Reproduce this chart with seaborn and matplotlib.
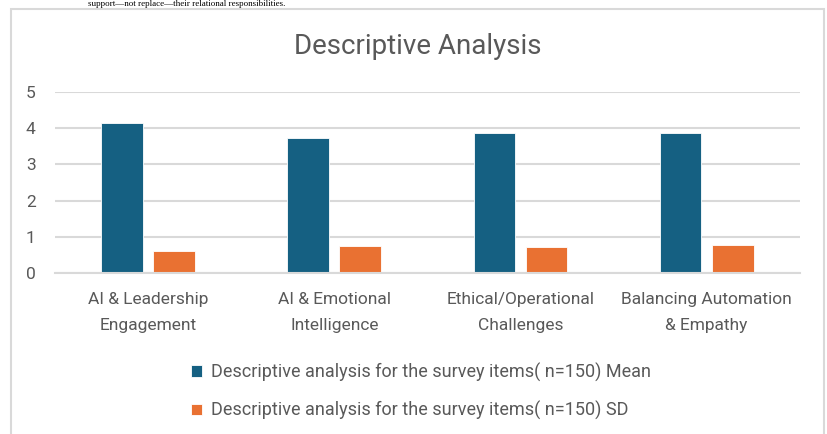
import pandas as pd
import matplotlib.pyplot as plt
import matplotlib.patches as mpatches
import seaborn as sns

# data
categories = ['AI & Leadership\nEngagement', 'AI & Emotional\nIntelligence',
              'Ethical/Operational\nChallenges', 'Balancing Automation\n& Empathy']
mean_vals = [4.15, 3.72, 3.87, 3.88]
sd_vals = [0.62, 0.74, 0.71, 0.77]
series = ['Descriptive analysis for the survey items( n=150) Mean',
          'Descriptive analysis for the survey items( n=150) SD']
y_ticks = [0, 1, 2, 3, 4, 5]

COLORS = {series[0]: '#156082', series[1]: '#E97132'}

df = pd.DataFrame({
    'Category': categories * 2,
    'Value': mean_vals + sd_vals,
    'Series': [series[0]] * 4 + [series[1]] * 4,
})

sns.set_theme(style="white")
plt.rcParams['font.family'] = ['Roboto', 'DejaVu Sans']

fig = plt.figure(figsize=(8.27, 4.34), dpi=100)
ax = fig.add_axes([0.0665, 0.371, 0.9005, 0.417])

sns.barplot(data=df, x='Category', y='Value', hue='Series', order=categories,
            hue_order=series, palette=COLORS, width=0.56, gap=0.2,
            saturation=1, edgecolor='white', linewidth=0.6, ax=ax, legend=True)

ax.set_ylim(0, 5)
ax.set_yticks(y_ticks)
ax.set_xticks(range(len(categories)))
ax.set_xticklabels(categories, linespacing=1.85)
ax.yaxis.grid(True, color='#D9D9D9', linewidth=1.5)
ax.set_axisbelow(True)
for side in ['left', 'right', 'top']:
    ax.spines[side].set_visible(False)
ax.spines['bottom'].set_color('#D9D9D9')
ax.spines['bottom'].set_linewidth(1.5)
ax.tick_params(axis='y', length=0, pad=14, labelsize=12.5, labelcolor='#595959')
ax.tick_params(axis='x', length=0, pad=14, labelsize=12.5, labelcolor='#595959')
ax.set_xlabel('')
ax.set_ylabel('')

handles, labels = ax.get_legend_handles_labels()
ax.get_legend().remove()
fig.legend(handles, labels, loc='upper center', bbox_to_anchor=(0.509, 0.202),
           frameon=False, ncol=1, fontsize=13, labelcolor='#595959',
           handlelength=0.6, handleheight=0.6, handletextpad=0.5, labelspacing=1.05)

fig.text(0.505, 0.894, 'Descriptive Analysis', ha='center', va='center',
         fontsize=20, color='#595959')

# chart frame and the document text above it
fig.patches.append(mpatches.Rectangle((11 / 827, -0.05), 813 / 827, 1 - 9 / 434 + 0.05,
                                      transform=fig.transFigure, fill=False,
                                      edgecolor='#D9D9D9', linewidth=1.5))
fig.text(0.106, 0.999, 'support\u2014not replace\u2014their relational responsibilities.',
         ha='left', va='top', fontsize=6.5, family='Liberation Serif', color='black')

fig.savefig('out.png', dpi=100)
